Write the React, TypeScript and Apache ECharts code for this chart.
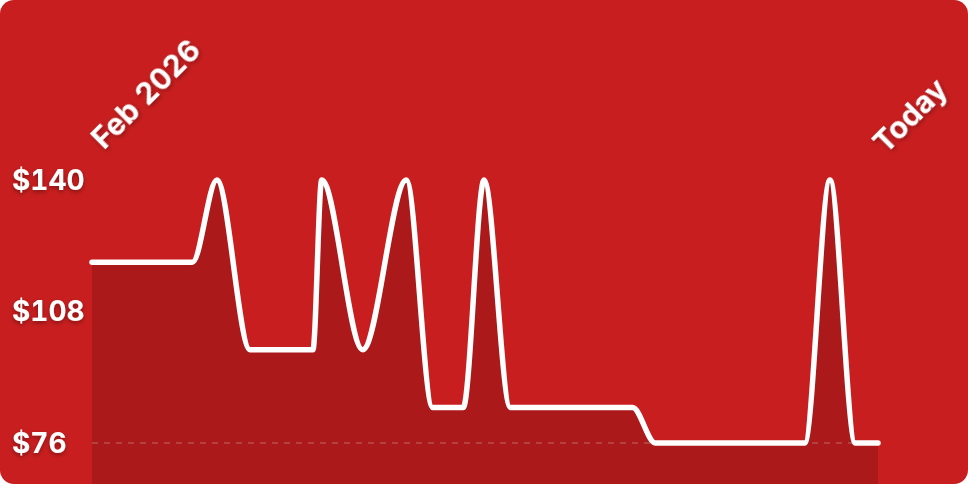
import React, { useEffect, useRef } from 'react';
import * as echarts from 'echarts';

// days since 1 Feb 2026, one entry per price change
const days = [0, 11.5, 14.3, 18.1, 25.3, 26.3, 31.0, 36.0, 39.0, 42.5, 44.9, 47.9, 61.9, 64.5, 81.6, 84.5, 87.4, 90];
const prices = [120, 120, 140, 98.7, 98.7, 140, 98.7, 140, 84.6, 84.6, 140, 84.6, 84.6, 76, 76, 140, 76, 76];

const priceTicks = [76, 108, 140];
const dateTicks = [0, 90];
const dateTickLabels = ['Feb 2026', 'Today'];

const labelStyle = {
  color: '#ffffff',
  fontFamily: 'Inter',
  fontWeight: 'bold' as const,
  fontSize: 28,
  textShadowColor: 'rgba(0, 0, 0, 0.35)',
  textShadowBlur: 4,
  textShadowOffsetY: 2
};
const dateLabelStyle = { ...labelStyle, fontSize: 30 };

const PriceChart = () => {
  const chartRef = useRef<HTMLDivElement>(null);

  useEffect(() => {
    document.body.style.margin = '0';
    if (!chartRef.current) return;
    const chart = echarts.init(chartRef.current, null, { renderer: 'svg' });

    chart.setOption({
      animation: false,
      grid: { left: 92, right: 90, top: 180, bottom: 0, outerBoundsMode: 'none', containLabel: false },
      xAxis: {
        type: 'value',
        position: 'top',
        min: 0,
        max: 90,
        axisLine: { show: false },
        axisTick: { show: false },
        splitLine: { show: false },
        axisLabel: {
          ...dateLabelStyle,
          customValues: dateTicks,
          rotate: -45,
          margin: 33,
          formatter: (v: number) => (v === dateTicks[0] ? '{first|' : '{last|') + dateTickLabels[dateTicks.indexOf(v)] + '}',
          rich: {
            first: { ...dateLabelStyle, padding: [0, 0, 0, 6] },
            last: { ...dateLabelStyle }
          }
        }
      },
      yAxis: {
        type: 'value',
        min: 66,
        max: 140,
        axisLine: { show: false },
        axisTick: { show: false },
        splitLine: { show: false },
        axisLabel: {
          ...labelStyle,
          customValues: priceTicks,
          align: 'left',
          margin: 80,
          formatter: (v: number) => '$' + v
        }
      },
      series: [
        {
          type: 'line',
          data: days.map((d, i) => [d, prices[i]]),
          smooth: 0.33,
          smoothMonotone: 'x',
          showSymbol: false,
          clip: false,
          lineStyle: { color: '#ffffff', width: 5.5, cap: 'round', join: 'round' },
          areaStyle: { color: 'rgba(0, 0, 0, 0.2)', origin: 'start' },
          markLine: {
            silent: true,
            symbol: 'none',
            z: 1,
            label: { show: false },
            lineStyle: { color: 'rgba(255, 255, 255, 0.2)', type: [6, 6], width: 2 },
            data: [{ yAxis: 76 }]
          }
        }
      ]
    });

    return () => {
      chart.dispose();
    };
  }, []);

  return (
    <div
      ref={chartRef}
      style={{
        width: '968px',
        height: '484px',
        background: '#c81e1f',
        borderRadius: '14px',
        overflow: 'hidden',
        fontVariantNumeric: 'tabular-nums'
      }}
    />
  );
};

const App = () => {
  return <PriceChart />;
};

export default App;
